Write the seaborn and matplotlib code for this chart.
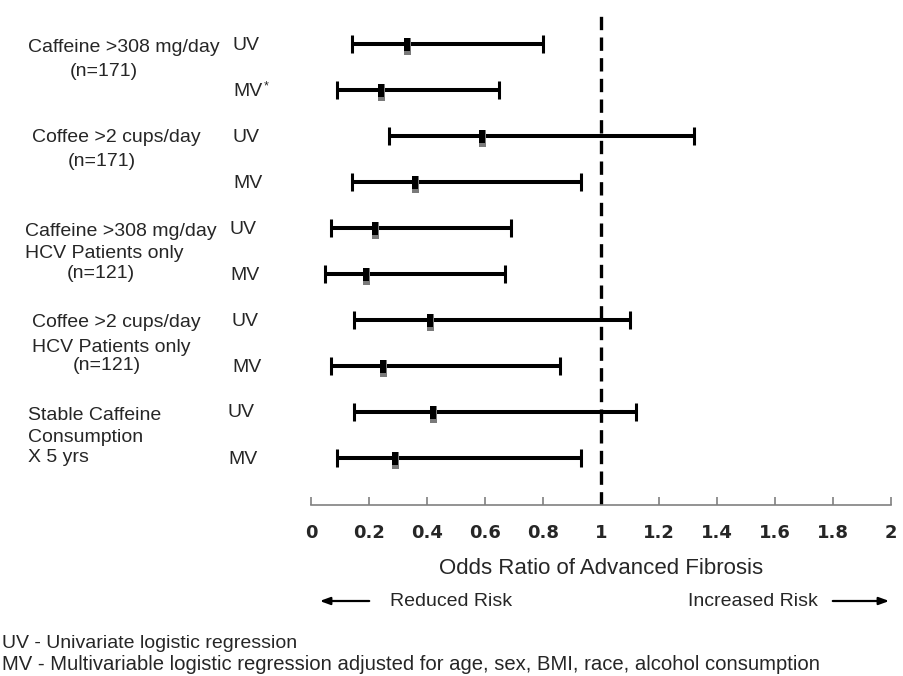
import matplotlib
matplotlib.use("Agg")
import matplotlib.pyplot as plt
import seaborn as sns
import pandas as pd

# odds ratios with 95% CI (top row first)
models = ["UV", "MV*", "UV", "MV", "UV", "MV", "UV", "MV", "UV", "MV"]
odds = [0.33, 0.24, 0.59, 0.36, 0.22, 0.19, 0.41, 0.25, 0.42, 0.29]
lower = [0.14, 0.09, 0.27, 0.14, 0.07, 0.05, 0.15, 0.07, 0.15, 0.09]
upper = [0.80, 0.65, 1.32, 0.93, 0.69, 0.67, 1.10, 0.86, 1.12, 0.93]

group_lines = [
    ["Caffeine >308 mg/day", "(n=171)"],
    ["Coffee >2 cups/day", "(n=171)"],
    ["Caffeine >308 mg/day", "HCV Patients only", "(n=121)"],
    ["Coffee >2 cups/day", "HCV Patients only", "(n=121)"],
    ["Stable Caffeine", "Consumption", "X 5 yrs"],
]
xticks = [0, 0.2, 0.4, 0.6, 0.8, 1, 1.2, 1.4, 1.6, 1.8, 2]
xtick_labels = ["0", "0.2", "0.4", "0.6", "0.8", "1", "1.2", "1.4", "1.6", "1.8", "2"]
footnotes = ["UV - Univariate logistic regression",
             "MV - Multivariable logistic regression adjusted for age, sex, BMI, race, alcohol consumption"]

df = pd.DataFrame({"row": range(len(odds)), "model": models,
                   "odds": odds, "lower": lower, "upper": upper})

sns.set_style("white")
plt.rcParams["font.family"] = ["Liberation Sans", "DejaVu Sans"]

W, H = 904, 676
fig = plt.figure(figsize=(W / 100, H / 100), dpi=100)
ax = fig.add_axes([311 / W, 1 - 505 / H, 580 / W, 495 / H])

def fx(px):
    return px / W

def fy(py):
    return 1 - py / H

# reference line at OR = 1
ax.axvline(1, color="black", lw=2.4, ls=(0, (4, 2.2)), zorder=1)

# confidence intervals
ax.errorbar(df["odds"], df["row"],
            xerr=[df["odds"] - df["lower"], df["upper"] - df["odds"]],
            fmt="none", ecolor="black", elinewidth=2.9, capsize=6.5, capthick=2.2, zorder=2)

# point estimates: grey shadow underneath a black bar
shadow = [(-3.5, -11), (3.5, -11), (3.5, 5.7), (-3.5, 5.7)]
bar = [(-3.5, -6.7), (3.5, -6.7), (3.5, 5.7), (-3.5, 5.7)]
sns.scatterplot(data=df, x="odds", y="row", marker=shadow, s=(22 * 0.72) ** 2,
                color="#7a7a7a", linewidth=0, ax=ax, zorder=3)
sns.scatterplot(data=df, x="odds", y="row", marker=bar, s=(13.4 * 0.72) ** 2,
                color="black", linewidth=0, ax=ax, zorder=4)

ax.set_xlim(0, 2)
ax.set_ylim(10.02, -0.739)
ax.set_xticks(xticks)
ax.set_xticklabels(xtick_labels, fontfamily="DejaVu Sans", fontweight="bold", fontsize=13)
ax.set_yticks([])
ax.set_ylabel("")
ax.set_xlabel("Odds Ratio of Advanced Fibrosis", fontsize=16, labelpad=11)
for side in ["left", "top", "right"]:
    ax.spines[side].set_visible(False)
ax.spines["bottom"].set_color("#808080")
ax.spines["bottom"].set_linewidth(1.2)
ax.tick_params(axis="x", bottom=True, direction="in", length=6, width=1.2,
               color="#808080", pad=14)

# left-hand labels
label_pos = [
    [(28, 47), (70, 72)],
    [(32, 138), (68, 162)],
    [(25, 231), (25, 254), (67, 273)],
    [(32, 323), (32, 347), (73, 366)],
    [(28, 416), (28, 438), (28, 457)],
]
for lines, pos in zip(group_lines, label_pos):
    for txt, (px, py) in zip(lines, pos):
        fig.text(fx(px), fy(py), txt, fontsize=14, ha="left", va="center")

model_x = [233, 233, 233, 233, 230, 230, 232, 232, 228, 228]
for i, (m, mx) in enumerate(zip(models, model_x)):
    py = 44 + 46 * i + 1
    if m.endswith("*"):
        fig.text(fx(mx), fy(py), m[:-1], fontsize=14, ha="left", va="center")
        fig.text(fx(mx + 31), fy(py - 5), "*", fontsize=9, ha="left", va="center")
    else:
        fig.text(fx(mx), fy(py), m, fontsize=14, ha="left", va="center")

# risk direction arrows
arrow = dict(arrowstyle="-|>,head_length=0.6,head_width=0.22", color="black", lw=1.6)
fig.text(fx(390), fy(601), "Reduced Risk", fontsize=14, ha="left", va="center")
fig.text(fx(818), fy(601), "Increased Risk", fontsize=14, ha="right", va="center")
ax.annotate("", xy=(fx(317), fy(601)), xytext=(fx(372), fy(601)),
            xycoords="figure fraction", textcoords="figure fraction", arrowprops=arrow)
ax.annotate("", xy=(fx(892), fy(601)), xytext=(fx(830), fy(601)),
            xycoords="figure fraction", textcoords="figure fraction", arrowprops=arrow)

# footnotes
fig.text(fx(2), fy(643), footnotes[0], fontsize=14, ha="left", va="center")
fig.text(fx(2), fy(665), footnotes[1], fontsize=14.6, ha="left", va="center")

fig.savefig("out.png", dpi=100)
